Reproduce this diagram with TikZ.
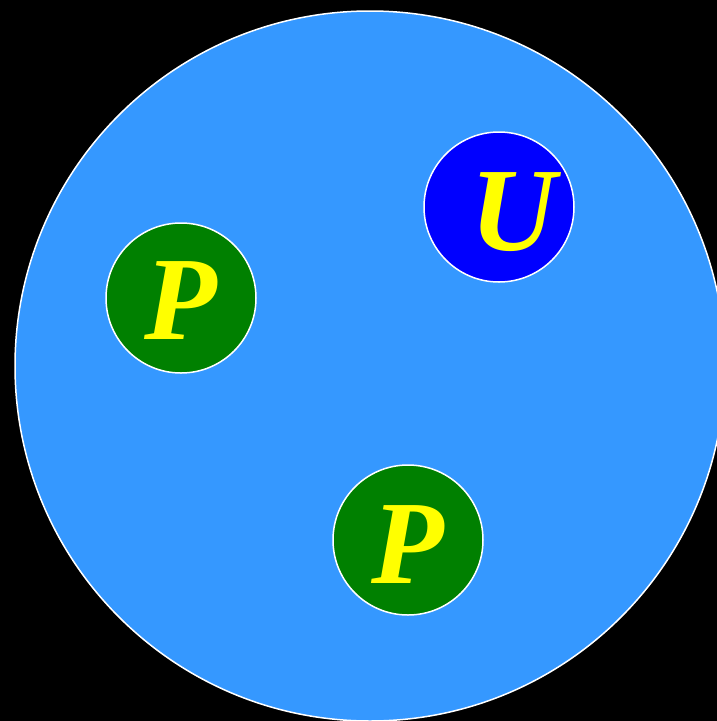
\documentclass[tikz,border=0pt]{standalone}
\usepackage{fontspec}
\setmainfont{Liberation Serif}
\definecolor{poolblue}{RGB}{53,152,255}
\definecolor{ublue}{RGB}{0,0,255}
\definecolor{pgreen}{RGB}{0,128,0}
\definecolor{lettyellow}{RGB}{255,255,0}
\tikzset{
  ball/.style={circle,draw=white,line width=1.5pt,minimum size=150pt,inner sep=0pt},
  lett/.style={anchor=base,text=lettyellow,inner sep=0pt,font=\fontsize{119}{119}\selectfont\bfseries\itshape}
}

\begin{document}
\begin{tikzpicture}[x=1pt,y=-1pt]
    \fill[black] (0,0) rectangle (717,721);
    \useasboundingbox (0,0) rectangle (717,721);
    \clip (0,0) rectangle (717,721);
    \draw[white,line width=1.5pt,fill=poolblue] (370,366) circle (355);

    \node[ball,fill=pgreen] (p1) at (181,298) {};
    \node[ball,fill=ublue] (u) at (499,207) {};
    \node[ball,fill=pgreen] (p2) at (408,540) {};

    \node[lett] (p1l) at (181,339) {P};
    \node[lett] (ul) at (513,250) {U};
    \node[lett] (p2l) at (408,583) {P};
\end{tikzpicture}
\end{document}
